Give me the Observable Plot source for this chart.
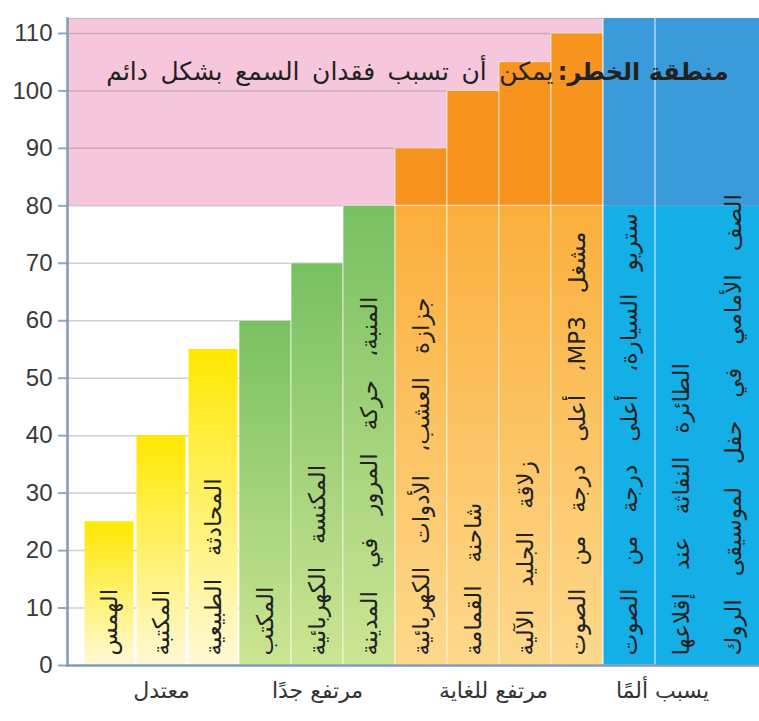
<!DOCTYPE html>
<html><head><meta charset="utf-8">
<script src="https://cdn.jsdelivr.net/npm/d3@7"></script>
<script src="https://cdn.jsdelivr.net/npm/@observablehq/plot@0.6"></script>
<style>body{margin:0;background:#fff}</style>
</head><body><div id="chart"></div>
<script>
// ---- data ----
const sources = [
  "الهمس",
  "المكتبة",
  "المحادثة الطبيعية",
  "المكتب",
  "المكنسة الكهربائية",
  "المنبة، حركة المرور في المدينة",
  "جزازة العشب، الأدوات الكهربائية",
  "شاحنة القمامة",
  "زلاقة الجليد الآلية",
  "مشغل MP3، أعلى درجة من الصوت",
  "ستريو السيارة، أعلى درجة من الصوت",
  "الطائرة النفاثة عند إقلاعها",
  "الصف الأمامي في حفل لموسيقى الروك"
];
const levels = [25, 40, 55, 60, 70, 80, 90, 100, 105, 110, 120, 130, 130];
const groupIndex = [0, 0, 0, 1, 1, 1, 2, 2, 2, 2, 3, 3, 3];
const groupLabels = ["معتدل", "مرتفع جدًا", "مرتفع للغاية", "يسبب ألمًا"];
const yTicks = [0, 10, 20, 30, 40, 50, 60, 70, 80, 90, 100, 110];
const dangerThreshold = 80;
const dangerTitle = "منطقة الخطر:";
const dangerText = "يمكن أن تسبب فقدان السمع بشكل دائم";

// ---- build ----
const yMax = 112.6;
const rtl = s => "\u202B" + s + "\u202C";
const wide = (s, sp) => s.replace(/ /g, sp);
const bars = sources.map((name, i) => ({name, level: levels[i], group: groupIndex[i], i}));
const G = g => bars.filter(d => d.group === g);
const lowTop = d => Math.min(d.level, dangerThreshold);
const upper = g => bars.filter(d => d.group === g && d.level > dangerThreshold);
const sep = {stroke: "white", strokeOpacity: 0.55, strokeWidth: 1.2};
const arabic = "DejaVu Sans, sans-serif";

const groupAnchors = [
  {label: groupLabels[0], x: sources[1], dx: 0},
  {label: groupLabels[1], x: sources[4], dx: 0},
  {label: groupLabels[2], x: sources[7], dx: 20},
  {label: groupLabels[3], x: sources[10], dx: 33}
];

const chart = Plot.plot({
  width: 759, height: 721,
  marginLeft: 67, marginRight: 0, marginTop: 18, marginBottom: 56,
  x: {domain: sources, padding: 0, insetLeft: 15, axis: null},
  y: {domain: [0, yMax], axis: null},
  style: {fontFamily: arabic, background: "white"},
  marks: [
    Plot.rect([dangerThreshold], {y1: d => d, y2: yMax, fill: "#f6c6dc"}),
    Plot.gridY(yTicks.filter(t => t > 0), {stroke: "#8a8a8a", strokeOpacity: 0.4, strokeWidth: 1.5}),
    Plot.ruleY([yMax], {stroke: "#bbbbbb", strokeWidth: 1}),
    // lower segments
    Plot.rectY(G(0), {x: "name", y1: 0, y2: lowTop, fill: "url(#gYellow)", insetLeft: 1.5, insetRight: 1.5}),
    Plot.rectY(G(1), {x: "name", y1: 0, y2: lowTop, fill: "url(#gGreen)", ...sep}),
    Plot.rectY(G(2), {x: "name", y1: 0, y2: lowTop, fill: "url(#gOrange)", ...sep}),
    Plot.rectY(G(3), {x: "name", y1: 0, y2: lowTop, fill: "#14afe7"}),
    // upper segments (danger zone)
    Plot.rectY(upper(2), {x: "name", y1: dangerThreshold, y2: "level", fill: "#f7931f", ...sep}),
    Plot.rectY(upper(3), {x: "name", y1: dangerThreshold, y2: "level", fill: "#3b9ad9", clip: true}),
    // separator for first blue bar
    Plot.rectY(G(3).filter((d, k) => k === 0), {x: "name", y1: 0, y2: "level", fill: "none", stroke: "white", strokeOpacity: 0.6, strokeWidth: 1.5, clip: true}),
    // bar labels
    Plot.text(bars, {x: "name", y: () => 1.75, text: d => rtl(wide(d.name, "\u2003")), rotate: -90, textAnchor: "start", lineAnchor: "middle", fontSize: 23, fill: "#222", fontFamily: arabic}),
    // danger annotation
    Plot.text([dangerTitle], {frameAnchor: "right", y: () => 103.3, text: d => rtl(d), textAnchor: "end", dx: -31, fontSize: 24, fontWeight: "bold", fill: "#222", fontFamily: arabic}),
    Plot.text([dangerText], {frameAnchor: "right", y: () => 103.3, text: d => rtl(wide(d, "\u2002")), textAnchor: "end", dx: -206, fontSize: 25, fill: "#222", fontFamily: arabic}),
    // y axis
    Plot.axisY(yTicks, {tickSize: 9, tickPadding: 6, stroke: "#8fa9c2", strokeWidth: 2, fill: "#3a3a3a", fontSize: 24, fontFamily: "Liberation Sans, Arial, sans-serif", label: null}),
    Plot.frame({anchor: "left", stroke: "#7f9bb8", strokeWidth: 2.5}),
    Plot.frame({anchor: "bottom", stroke: "#7f9bb8", strokeWidth: 2.5}),
    // group labels
    ...groupAnchors.map(g => Plot.text([g], {x: "x", text: d => rtl(d.label), frameAnchor: "bottom", dy: 32, dx: g.dx, fontSize: 22, fill: "#333", fontFamily: arabic}))
  ]
});

// gradients
const NS = "http://www.w3.org/2000/svg";
const defs = document.createElementNS(NS, "defs");
const grads = {
  gYellow: ["#ffe800", "#fff9d6"],
  gGreen: ["#78c062", "#cde593"],
  gOrange: ["#fbae3c", "#fdd98c"]
};
for (const [id, [top, bottom]] of Object.entries(grads)) {
  const lg = document.createElementNS(NS, "linearGradient");
  lg.setAttribute("id", id);
  lg.setAttribute("x1", "0"); lg.setAttribute("y1", "0");
  lg.setAttribute("x2", "0"); lg.setAttribute("y2", "1");
  for (const [off, col] of [["0", top], ["1", bottom]]) {
    const s = document.createElementNS(NS, "stop");
    s.setAttribute("offset", off);
    s.setAttribute("stop-color", col);
    lg.appendChild(s);
  }
  defs.appendChild(lg);
}
chart.insertBefore(defs, chart.firstChild);
document.getElementById("chart").appendChild(chart);
</script>
</body></html>
